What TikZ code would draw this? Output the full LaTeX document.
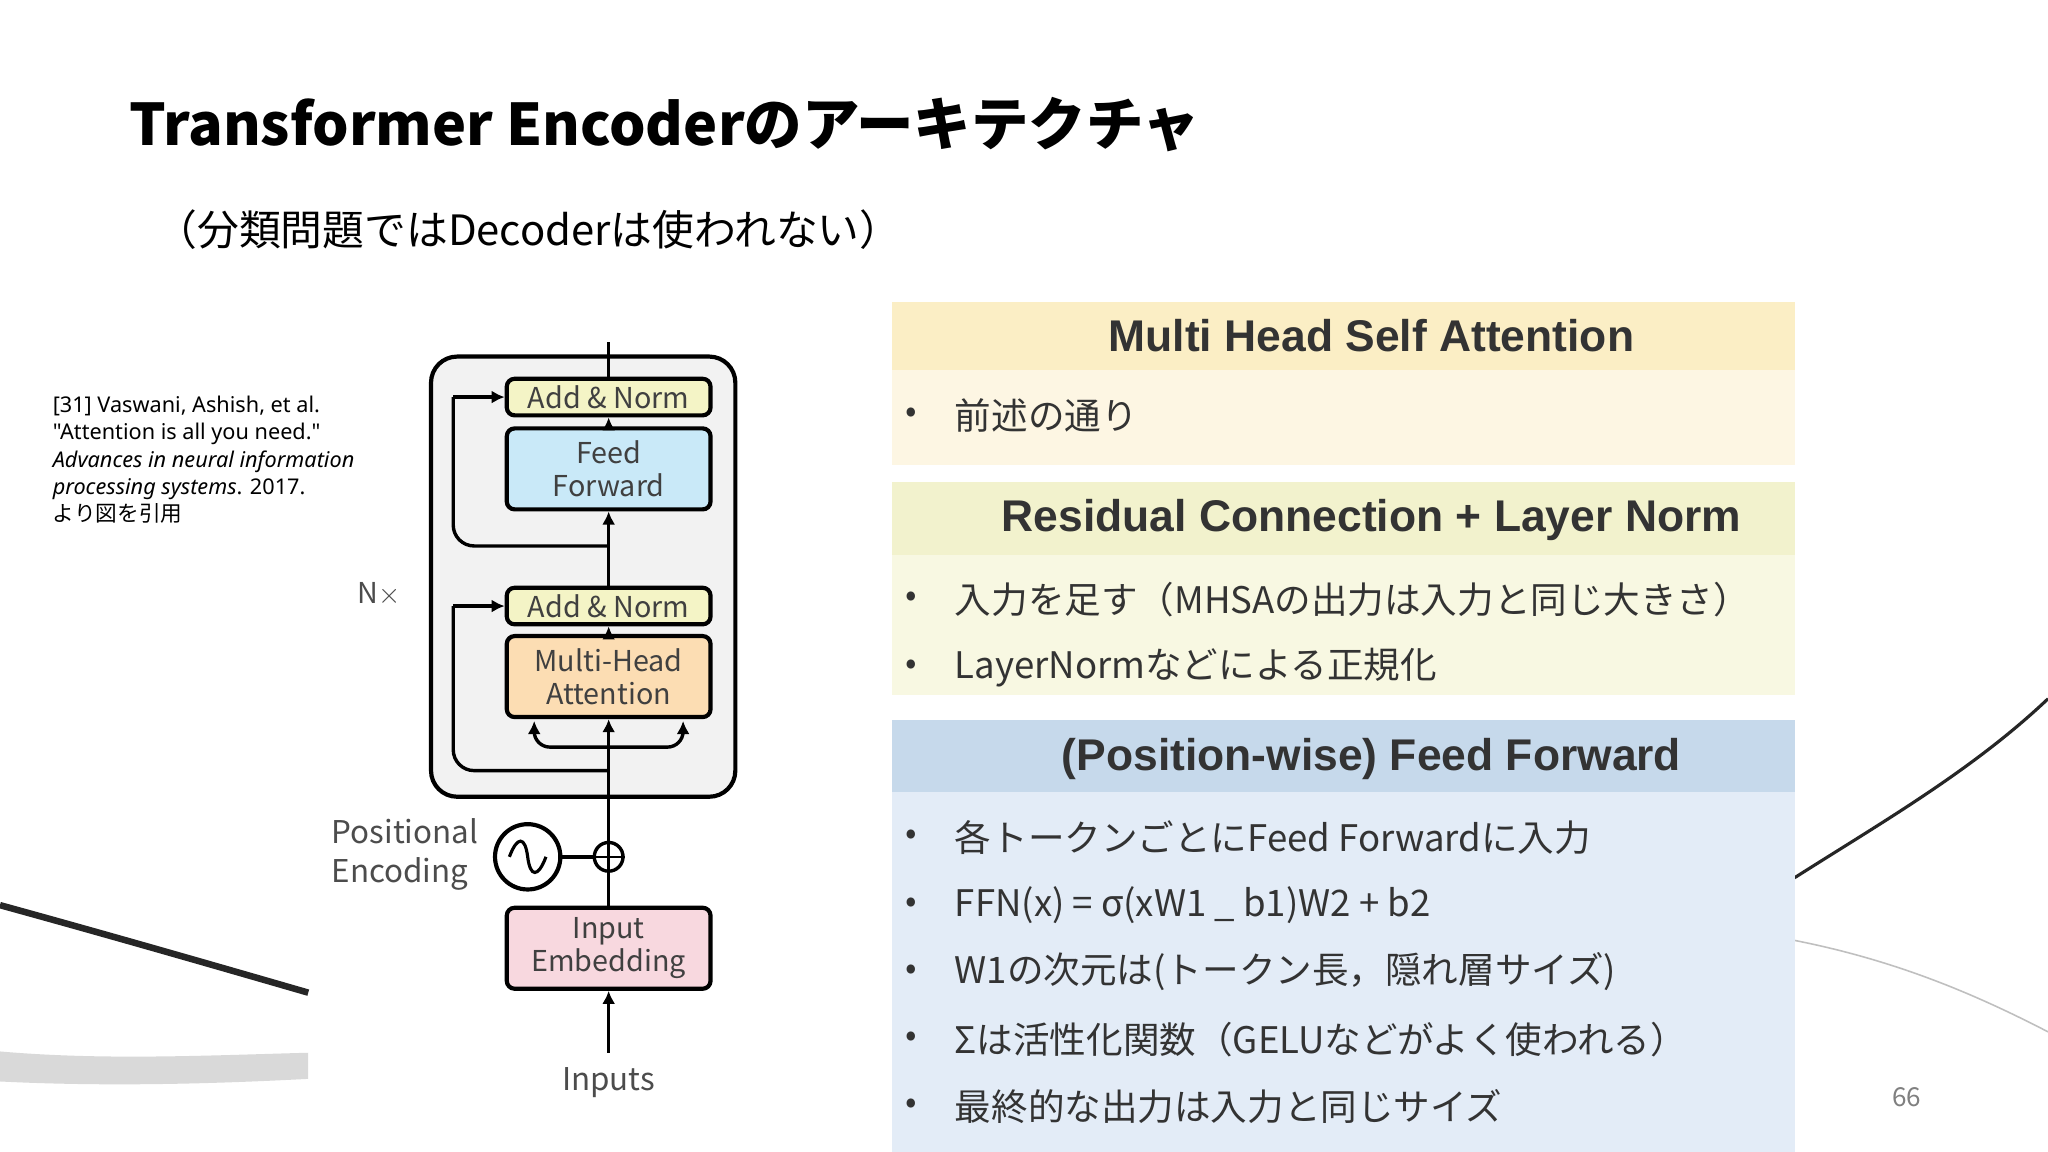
\documentclass[tikz,border=0pt]{standalone}
\usepackage{fontspec}
\setmainfont{Noto Sans CJK JP}
\newfontfamily\hdr{Liberation Sans}
\newfontfamily\ns{Noto Sans}
\usetikzlibrary{arrows.meta}
\definecolor{an}{HTML}{F4F4C6}
\definecolor{ff}{HTML}{C9E9F8}
\definecolor{mh}{HTML}{FCDDB3}
\definecolor{ie}{HTML}{F8D8DF}
\begin{document}
\begin{tikzpicture}[x=0.5pt,y=-0.5pt,
 blk/.style={draw,line width=1.6pt,rounded corners=3pt,font=\fontsize{11}{12.5}\selectfont,text=black!75,align=center,inner sep=0pt},
 arr/.style={line width=1.3pt,-{Latex[length=5pt,width=5pt]}},
 ln/.style={line width=1.3pt},
 hd/.style={font=\hdr\bfseries\fontsize{17}{20}\selectfont,text=black!80},
 bt/.style={font=\fontsize{14}{16}\selectfont,text=black!80,anchor=west}]
\useasboundingbox (0,0) rectangle (1568,882);
\fill[white] (0,0) rectangle (1568,882);
% decorations
\draw[line width=2.5pt,black!85] (0,693) .. controls (80,715) and (160,738) .. (236,760);
\fill[black!15] (0,805) .. controls (80,812) and (160,808) .. (236,806) -- (236,826) .. controls (160,830) and (80,832) .. (0,828) -- cycle;
\draw[line width=1.2pt,black!85] (1374,672) .. controls (1440,630) and (1510,590) .. (1568,535);
\draw[line width=0.6pt,black!25] (1374,720) .. controls (1450,735) and (1510,760) .. (1568,790);
% titles
\node[anchor=west,font=\bfseries\fontsize{22}{26}\selectfont] (t) at (92,95) {Transformer Encoderのアーキテクチャ};
\node[anchor=west,font=\fontsize{16}{20}\selectfont] (s) at (112,176) {（分類問題ではDecoderは使われない）};
\node[anchor=north west,align=left,font=\ns\fontsize{8.3}{10.4}\selectfont,inner sep=0pt] (c) at (40,303) {[31] Vaswani, Ashish, et al.\\"Attention is all you need."\\\textit{Advances in neural information}\\\textit{processing systems}. 2017.\\\normalfont\fontsize{8.3}{10.4}\selectfont より図を引用};
% diagram
\draw[line width=1.6pt,fill=black!5,rounded corners=10pt] (330,273) rectangle (563,610);
\node[blk,fill=an,minimum width=78pt,minimum height=14pt] (an2) at (466,304) {Add \& Norm};
\node[blk,fill=ff,minimum width=78pt,minimum height=31pt] (ff) at (466,359) {Feed\\Forward};
\node[blk,fill=an,minimum width=78pt,minimum height=14pt] (an1) at (466,464) {Add \& Norm};
\node[blk,fill=mh,minimum width=78pt,minimum height=31pt] (mh) at (466,518) {Multi-Head\\Attention};
\node[blk,fill=ie,minimum width=78pt,minimum height=31pt] (ie) at (466,726) {Input\\Embedding};
\node[draw,circle,line width=1.3pt,minimum size=11pt,inner sep=0pt] (pl) at (466,656) {};
\draw[line width=1pt] (pl.north)--(pl.south) (pl.west)--(pl.east);
\node[draw,circle,line width=1.6pt,minimum size=25pt,inner sep=0pt] (sn) at (404,656) {};
\draw[line width=1.2pt] (390,656) .. controls (396,640) and (402,640) .. (404,656) .. controls (406,672) and (412,672) .. (418,656);
\node[font=\fontsize{11}{12}\selectfont,text=black!70] (nx) at (290,455) {N$\times$};
\node[font=\fontsize{12}{15}\selectfont,text=black!70,align=left] (pe) at (310,654) {Positional\\Encoding};
\node[font=\fontsize{12}{14}\selectfont,text=black!70] (in) at (466,829) {Inputs};
\coordinate (i0) at (466,806);
\draw[arr] (i0)--(ie.south);
\draw[ln] (ie.north)--(pl.south);
\draw[ln] (sn.east)--(pl.west);
\draw[arr] (pl.north)--(mh.south);
\coordinate (b1) at (466,590); \coordinate (s1) at (466,572);
\draw[ln,rounded corners=8pt] (b1)--(347,590)--(347,464);
\draw[arr] (347,464)--(an1.west);
\draw[ln,rounded corners=6pt] (409,556)--(409,572)--(523,572)--(523,556);
\draw[arr] (409,562)--(409,552);\draw[arr] (523,562)--(523,552);
\draw[arr] (mh.north)--(an1.south);
\draw[arr] (an1.north)--(ff.south);
\coordinate (b2) at (466,418);
\draw[ln,rounded corners=8pt] (b2)--(347,418)--(347,304);
\draw[arr] (347,304)--(an2.west);
\draw[arr] (ff.north)--(an2.south);
\coordinate (top) at (466,262);
\draw[ln] (an2.north)--(top);
% panels
\fill[fill={rgb,255:red,253;green,246;blue,227}] (683,231) rectangle (1374,356);
\fill[fill={rgb,255:red,251;green,238;blue,197}] (683,231) rectangle (1374,283);
\fill[fill={rgb,255:red,248;green,248;blue,226}] (683,369) rectangle (1374,532);
\fill[fill={rgb,255:red,242;green,242;blue,205}] (683,369) rectangle (1374,425);
\fill[fill={rgb,255:red,227;green,236;blue,247}] (683,551) rectangle (1374,882);
\fill[fill={rgb,255:red,198;green,217;blue,235}] (683,551) rectangle (1374,606);
\node[hd] (h1) at (1050,257) {Multi Head Self Attention};
\node[hd] (h2) at (1050,398) {Residual Connection + Layer Norm};
\node[hd] (h3) at (1050,581) {(Position-wise) Feed Forward};
\foreach \y/\t in {318/前述の通り,459/入力を足す（MHSAの出力は入力と同じ大きさ）,511/LayerNormなどによる正規化,641/各トークンごとにFeed Forwardに入力,693/{FFN(x) = σ(xW1 \_ b1)W2 + b2},744/{W1の次元は(トークン長，隠れ層サイズ)},796/Σは活性化関数（GELUなどがよく使われる）,847/最終的な出力は入力と同じサイズ}{
 \node[font=\fontsize{13}{14}\selectfont,text=black!80] at (698,\y) {•};
 \node[bt] at (724,\y) {\t};}
\node[font=\fontsize{10}{12}\selectfont,text=black!50] (pg) at (1460,840) {66};
\end{tikzpicture}
\end{document}
